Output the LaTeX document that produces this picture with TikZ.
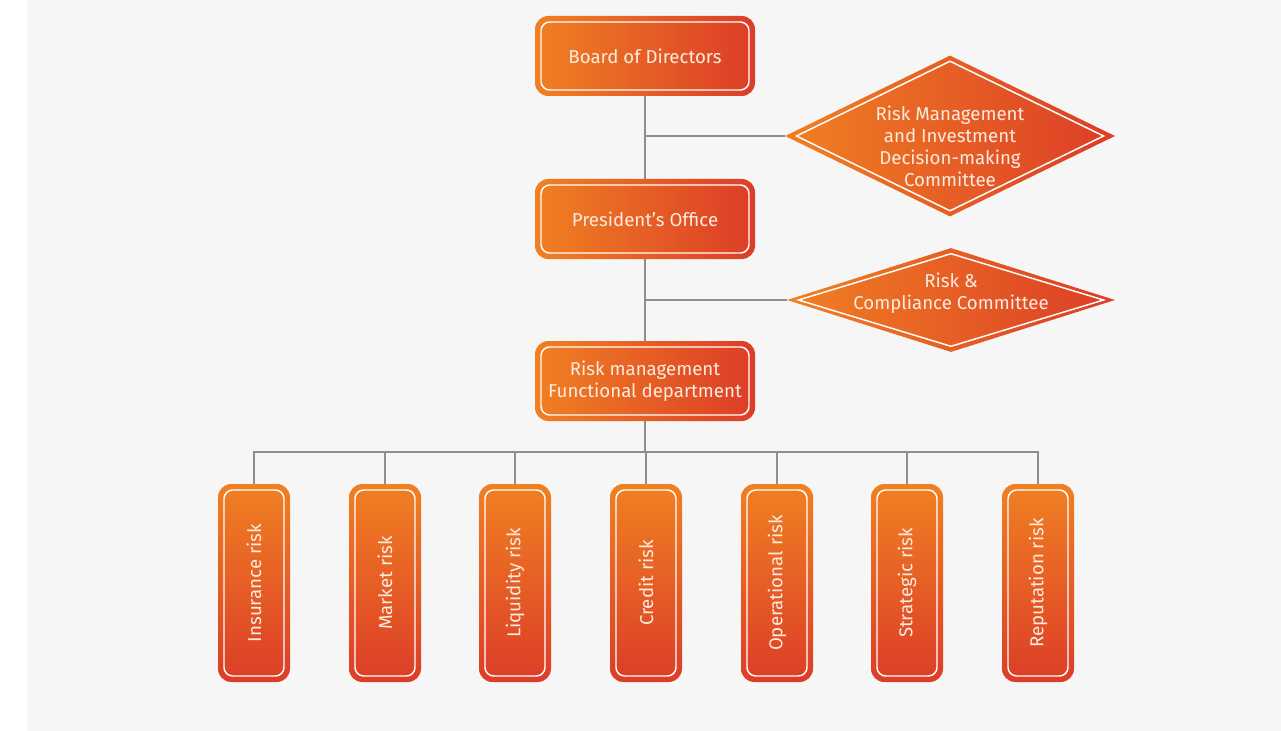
\documentclass[tikz,border=0pt]{standalone}
\usepackage{fontspec}
\setmainfont{Fira Sans}
\usetikzlibrary{shapes.geometric,calc}
\definecolor{og}{HTML}{F08022}
\definecolor{rd}{HTML}{DC3D27}
\definecolor{bgc}{HTML}{F6F6F6}
\definecolor{lnc}{HTML}{8E8E8E}
\definecolor{txc}{HTML}{FCEBDF}
\tikzset{
  x=0.75pt, y=-0.75pt,
  lbl/.style={text=txc, font=\fontsize{14}{16.5}\selectfont, align=center, inner sep=0pt},
  hbox/.style={lbl, rectangle, rounded corners=10pt, left color=og, right color=rd,
    minimum width=165pt, minimum height=60pt,
    path picture={\draw[white, line width=1.1pt, rounded corners=6.5pt]
      ($(path picture bounding box.north west)+(4.5pt,-4.5pt)$) rectangle
      ($(path picture bounding box.south east)+(-4.5pt,4.5pt)$);}},
  vbox/.style={lbl, rectangle, rounded corners=10pt, top color=og, bottom color=rd,
    minimum width=54pt, minimum height=148.5pt,
    path picture={\draw[white, line width=1.1pt, rounded corners=6.5pt]
      ($(path picture bounding box.north west)+(4.5pt,-4.5pt)$) rectangle
      ($(path picture bounding box.south east)+(-4.5pt,4.5pt)$);}},
  dmd/.style={diamond, inner sep=0pt, left color=og, right color=rd,
    path picture={\draw[white, line width=1.1pt]
      ($(path picture bounding box.west)+(8.5pt,0pt)$) --
      ($(path picture bounding box.north)+(0pt,-4.2pt)$) --
      ($(path picture bounding box.east)+(-8.5pt,0pt)$) --
      ($(path picture bounding box.south)+(0pt,4.2pt)$) -- cycle;}},
  conn/.style={draw=lnc, line width=1.5pt}
}
\begin{document}
\begin{tikzpicture}
\fill[white] (0,0) rectangle (1281,731);
\fill[bgc] (27,0) rectangle (1281,731);
\useasboundingbox (0,0) rectangle (1281,731);

\node[hbox] (board) at (645,56) {Board of Directors};
\node[hbox] (pres) at (645,219) {President's Office};
\node[hbox] (rm) at (645,381) {Risk management\\Functional department};
\node[dmd, minimum width=247.5pt, minimum height=120.75pt,
  label={[lbl, yshift=-7.5pt]center:{Risk Management\\and Investment\\Decision-making\\Committee}}] (d1) at (950,136) {};
\node[dmd, minimum width=246pt, minimum height=78pt,
  label={[lbl, yshift=5.25pt]center:{Risk \&\\Compliance Committee}}] (d2) at (951,300) {};

\node[vbox] (r1) at (254,583) {\rotatebox{90}{Insurance risk}};
\node[vbox] (r2) at (385,583) {\rotatebox{90}{Market risk}};
\node[vbox] (r3) at (515,583) {\rotatebox{90}{Liquidity risk}};
\node[vbox] (r4) at (646,583) {\rotatebox{90}{Credit risk}};
\node[vbox] (r5) at (777,583) {\rotatebox{90}{Operational risk}};
\node[vbox] (r6) at (907,583) {\rotatebox{90}{Strategic risk}};
\node[vbox] (r7) at (1038,583) {\rotatebox{90}{Reputation risk}};

\coordinate (bus) at (645,452);

\draw[conn] (board.south) -- (pres.north);
\draw[conn] (pres.south) -- (rm.north);
\draw[conn] (d1.west) -- (d1.west -| board.south);
\draw[conn] (d2.west) -- (d2.west -| pres.south);
\draw[conn] (rm.south) -- (bus);
\draw[conn] (r1.north) -- (r1.north |- bus) -- (r7.north |- bus) -- (r7.north);
\foreach \r in {r2,r3,r4,r5,r6} { \draw[conn] (\r.north) -- (\r.north |- bus); }
\end{tikzpicture}
\end{document}
